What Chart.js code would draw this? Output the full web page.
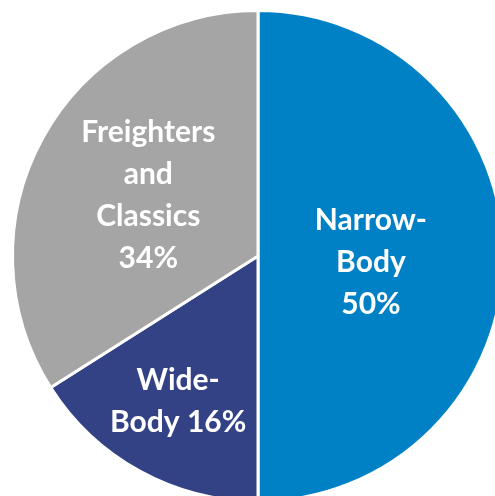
<!DOCTYPE html>
<html lang="en">
<head>
    <meta charset="UTF-8">
    <title>Fleet mix</title>
    <style>
        html, body {
            margin: 0;
            padding: 0;
            background: #ffffff;
            overflow: hidden;
        }
        .wrap {
            width: 520px;
            height: 520px;
        }
    </style>
</head>
<body>
    <div class="wrap">
        <canvas id="fleetChart" width="520" height="520"></canvas>
    </div>

    <script src="https://cdn.jsdelivr.net/npm/chart.js"></script>
    <script>
        const categories = ['Narrow-Body', 'Wide-Body', 'Freighters and Classics'];
        const shares = [50, 16, 34];
        const labelLines = [
            ['Narrow-', 'Body', '50%'],
            ['Wide-', 'Body 16%'],
            ['Freighters', 'and', 'Classics', '34%']
        ];
        const sliceColors = ['#0081C6', '#334185', '#A5A5A5'];
        // how far out along the radius each label sits (Excel "best fit")
        const labelRadius = [0.46, 0.675, 0.51];
        const labelNudgeY = [6, 0, 0];

        // draws the in-slice labels, no datalabels plugin available offline
        const sliceLabels = {
            id: 'sliceLabels',
            afterDatasetsDraw(chart) {
                const ctx = chart.ctx;
                const arcs = chart.getDatasetMeta(0).data;
                ctx.save();
                ctx.fillStyle = '#ffffff';
                ctx.font = 'bold 30px Lato, "Open Sans", sans-serif';
                ctx.textAlign = 'center';
                ctx.textBaseline = 'middle';
                const lineHeight = 42;
                arcs.forEach((arc, i) => {
                    const mid = (arc.startAngle + arc.endAngle) / 2;
                    const r = arc.outerRadius * labelRadius[i];
                    const cx = arc.x + Math.cos(mid) * r;
                    const cy = arc.y + Math.sin(mid) * r + labelNudgeY[i];
                    const lines = labelLines[i];
                    const top = cy - (lines.length - 1) * lineHeight / 2;
                    lines.forEach((line, j) => {
                        ctx.fillText(line, cx, top + j * lineHeight);
                    });
                });
                ctx.restore();
            }
        };

        const ctx = document.getElementById('fleetChart').getContext('2d');
        const fleetChart = new Chart(ctx, {
            type: 'pie',
            data: {
                labels: categories,
                datasets: [{
                    data: shares,
                    backgroundColor: sliceColors,
                    borderColor: '#ffffff',
                    borderWidth: 3
                }]
            },
            options: {
                responsive: false,
                animation: false,
                layout: {
                    padding: { left: 11, top: 9, right: 15, bottom: 17 }
                },
                plugins: {
                    legend: { display: false },
                    tooltip: { enabled: false }
                }
            },
            plugins: [sliceLabels]
        });
    </script>
</body>
</html>
